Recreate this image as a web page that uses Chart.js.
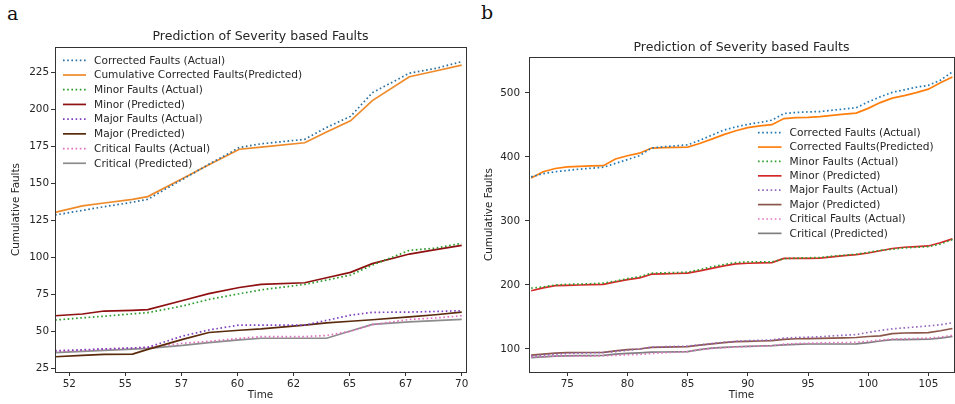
<!DOCTYPE html>
<html>
<head>
<meta charset="utf-8">
<script src="https://cdn.jsdelivr.net/npm/chart.js@4.4.1/dist/chart.umd.min.js"></script>
<style>
  body { margin: 0; background: #fff; width: 955px; height: 404px; overflow: hidden; position: relative; }
  .panel { position: absolute; top: 0; }
  .tag { position: absolute; font-family: "DejaVu Serif", serif; font-size: 19px; color: #111; }
</style>
</head>
<body>
<div class="tag" style="left:7px;top:2px">a</div>
<div class="tag" style="left:481px;top:1px">b</div>
<canvas id="chartA" class="panel" style="left:0" width="480" height="404"></canvas>
<canvas id="chartB" class="panel" style="left:480px" width="475" height="404"></canvas>
<script>
// ── Panel a: values ───────────────────────────────────────────
const timesA = [51.35, 52.6, 53.6, 54.9, 55.6, 57.2, 58.4, 59.8, 60.8, 62.8, 63.8, 64.9, 65.9, 67.6, 68.8, 70.0];
const correctedActualA = [128.4, 131.5, 134, 137, 139, 152.5, 162.6, 174, 176.5, 179.5, 187.5, 195, 211, 224.2, 227.4, 232];
const correctedPredA   = [130.2, 134.5, 136.5, 139, 140.8, 153.1, 162.4, 172.8, 174.3, 177.2, 184.4, 192, 205.7, 221.8, 225.7, 229.7];
const minorActualA     = [57.4, 58.9, 60.0, 61.6, 62.4, 66.9, 71.3, 75.2, 77.8, 81.5, 84.4, 87.8, 94.5, 104.5, 106, 109.3];
const minorPredA       = [60.3, 61.5, 63.5, 64, 64.4, 70.6, 75.3, 79.4, 81.5, 82.6, 86, 89.6, 95.5, 102, 105, 107.8];
const majorActualA     = [36.7, 37.3, 37.9, 38.5, 39, 46.6, 50.7, 54, 54, 54, 57.2, 60.7, 62.6, 62.8, 63.2, 63.7];
const majorPredA       = [32.6, 33.5, 34.2, 34.4, 37.6, 44.3, 49, 50.5, 51.4, 54, 55.5, 56.6, 57.6, 59.5, 61, 62.8];
const criticalActualA  = [36.2, 37, 37.8, 38.5, 39, 41.7, 43, 45, 46.2, 46.2, 47, 49.8, 54.3, 57.8, 58.8, 60.3];
const criticalPredA    = [35.4, 36.3, 36.9, 37.8, 38.3, 40.3, 42.2, 44, 45.1, 45.1, 45.1, 50, 54.5, 56.2, 57, 57.9];
const xTicksA = [52, 54.571, 57.143, 59.714, 62.286, 64.857, 67.429, 70];
const yTicksA = [25, 50, 75, 100, 125, 150, 175, 200, 225];

// ── Panel b ───────────────────────────────────────────────────
const timesB = [72, 73, 74, 75, 76, 77, 78, 79, 80, 81, 82, 83, 84, 85, 86, 87, 88, 89,
                90, 91, 92, 93, 94, 95, 96, 97, 98, 99, 100, 101, 102, 103, 104, 105, 106, 107];
const correctedActualB = [369, 374, 377, 379, 381, 382.5, 384, 390, 396, 402, 414, 416, 417.5, 419, 426, 434, 442, 447,
                          451, 454, 457.5, 468, 469.5, 470.5, 471, 473, 475, 477, 486, 494, 501, 505, 509, 512, 520, 533];
const correctedPredB   = [367, 377, 382, 384.5, 385.5, 386, 386.5, 397, 402, 406, 414, 414.5, 415, 415.5, 421, 428, 435, 441,
                          446, 448.5, 450.5, 460, 461.5, 462, 463, 465, 467, 468.5, 476, 485, 492, 496, 500.5, 506, 516, 525];
const minorActualB     = [195, 197, 200, 201, 201.5, 202, 203, 206, 210, 213, 218.5, 219, 219.5, 220, 224, 228.5, 232, 235,
                          236, 236, 236, 241, 242, 242.5, 243, 245, 246.5, 248, 251, 254, 256, 258, 259, 260, 264, 271];
const minorPredB       = [191, 195.5, 199, 199.5, 200, 200.5, 201, 205, 208.5, 211, 217, 217.5, 218, 218.5, 222, 226, 230, 233,
                          234, 234.5, 235, 241.5, 241.5, 241.5, 242, 244, 246, 247.5, 250, 253.5, 257, 259, 260, 261, 266, 272];
const majorActualB     = [88.5, 90.5, 92, 93, 93.5, 94, 94.5, 96, 98, 100, 103, 103.5, 104, 104.5, 106.5, 108.5, 110.5, 112,
                          113, 113.5, 114, 117, 118, 118.5, 119, 120.5, 121.5, 122.5, 126, 129, 131.5, 133, 134.5, 136, 138, 141];
const majorPredB       = [90.5, 92, 93.5, 94.3, 94.5, 94.5, 94.8, 97, 99, 100, 102.6, 103, 103.3, 103.6, 106, 108, 110, 111.5,
                          112, 112.5, 113, 115, 116, 116.3, 116.6, 117, 117.5, 118, 119.5, 120.5, 124, 125, 125.3, 125.5, 128.5, 132];
const criticalActualB  = [87, 88, 89, 89, 89, 89, 89.5, 90, 91, 91.5, 93, 94, 95, 96, 99, 101, 102, 103,
                          104, 104.5, 105, 107.5, 108.5, 109, 109.5, 110, 110, 110.5, 112, 114, 115.5, 116, 116.5, 117, 118.5, 121.5];
const criticalPredB    = [86.4, 87.7, 89, 89.3, 89.5, 89.7, 90, 92, 93.3, 94, 95, 95.3, 95.6, 96, 99, 101.5, 102.5, 103.5,
                          104.2, 104.7, 105.2, 106.5, 107.3, 107.8, 107.8, 107.8, 107.8, 108, 110, 112.5, 114.5, 114.8, 115, 115.2, 117, 119.5];
const xTicksB = [75, 80, 85, 90, 95, 100, 105];
const yTicksB = [100, 200, 300, 400, 500];

const TITLE = "Prediction of Severity based Faults";
const FONT = '"DejaVu Sans", sans-serif';
const INK = "#262626";
const DOT = [1.6, 2.6];

function pts(times, vals) {
  return times.map((t, i) => ({ x: t, y: vals[i] }));
}

function line(label, times, vals, color, dotted) {
  return {
    label, data: pts(times, vals), borderColor: color, backgroundColor: color,
    borderWidth: 1.7, borderDash: dotted ? DOT : [], pointRadius: 0, tension: 0, fill: false
  };
}

/* ── Frame, title and legend drawn like matplotlib ───────────*/
const decorPlugin = {
  id: "decor",
  afterDraw(chart, args, o) {
    const { ctx, chartArea: a } = chart;
    ctx.save();
    ctx.strokeStyle = "#333";
    ctx.lineWidth = 1;
    ctx.setLineDash([]);
    ctx.strokeRect(Math.round(a.left) + 0.5, Math.round(a.top) + 0.5,
                   Math.round(a.right - a.left), Math.round(a.bottom - a.top));

    ctx.fillStyle = INK;
    ctx.font = "12.5px " + FONT;
    ctx.textAlign = "center";
    ctx.textBaseline = "middle";
    ctx.fillText(o.title, (a.left + a.right) / 2, o.titleY);

    ctx.font = "10.6px " + FONT;
    ctx.textAlign = "left";
    chart.data.datasets.forEach((ds, i) => {
      const y = o.legendY + i * o.legendStep;
      ctx.beginPath();
      ctx.strokeStyle = ds.borderColor;
      ctx.lineWidth = ds.borderWidth;
      ctx.setLineDash(ds.borderDash || []);
      ctx.moveTo(o.legendX, y);
      ctx.lineTo(o.legendX + o.swatch, y);
      ctx.stroke();
      ctx.setLineDash([]);
      ctx.fillStyle = INK;
      ctx.fillText(ds.label, o.legendX + o.swatch + 8, y + 0.5);
    });
    ctx.restore();
  }
};

function axes(cfg) {
  const tickFont = { family: FONT, size: 10.4 };
  const grid = { display: true, drawOnChartArea: false, drawTicks: true, tickLength: 4, color: "#333" };
  return {
    x: {
      type: "linear", min: cfg.xMin, max: cfg.xMax, grid, border: { display: false },
      afterBuildTicks: s => { s.ticks = cfg.xTicks.map(v => ({ value: v })); },
      afterFit: s => { s.height = 32; },
      ticks: { color: INK, font: tickFont, padding: 2, maxRotation: 0, autoSkip: false, callback: v => Math.round(v) },
      title: { display: true, text: "Time", color: INK, font: tickFont, padding: { top: 0, bottom: 2 } }
    },
    y: {
      type: "linear", min: cfg.yMin, max: cfg.yMax, grid, border: { display: false },
      afterBuildTicks: s => { s.ticks = cfg.yTicks.map(v => ({ value: v })); },
      afterFit: s => { s.width = cfg.yWidth; },
      ticks: { color: INK, font: tickFont, padding: cfg.yPad, autoSkip: false },
      title: { display: true, text: "Cumulative Faults", color: INK, font: tickFont, padding: { top: cfg.yTitlePad, bottom: 0 } }
    }
  };
}

/* ── Chart a ────────────────────────────────────────────────*/
new Chart(document.getElementById("chartA"), {
  type: "line",
  data: {
    datasets: [
      line("Corrected Faults (Actual)", timesA, correctedActualA, "#2a6f9e", true),
      line("Cumulative Corrected Faults(Predicted)", timesA, correctedPredA, "#ee8a2a", false),
      line("Minor Faults (Actual)", timesA, minorActualA, "#2a9a2a", true),
      line("Minor (Predicted)", timesA, minorPredA, "#8e1010", false),
      line("Major Faults (Actual)", timesA, majorActualA, "#8040c0", true),
      line("Major (Predicted)", timesA, majorPredA, "#5a2a0c", false),
      line("Critical Faults (Actual)", timesA, criticalActualA, "#e070c0", true),
      line("Critical (Predicted)", timesA, criticalPredA, "#8c8c8c", false)
    ]
  },
  options: {
    responsive: false, animation: false,
    layout: { padding: { left: 0, right: 14, top: 47, bottom: 0 } },
    scales: axes({ xMin: 51.344, xMax: 70.197, xTicks: xTicksA, yMin: 22.3, yMax: 241.9, yTicks: yTicksA,
                   yWidth: 55, yPad: 2, yTitlePad: 10 }),
    plugins: {
      legend: { display: false }, tooltip: { enabled: false },
      decor: { title: TITLE, titleY: 37, legendX: 63, legendY: 60.3, legendStep: 14.71, swatch: 23 }
    }
  },
  plugins: [decorPlugin]
});

/* ── Chart b ────────────────────────────────────────────────*/
new Chart(document.getElementById("chartB"), {
  type: "line",
  data: {
    datasets: [
      line("Corrected Faults (Actual)", timesB, correctedActualB, "#1f77b4", true),
      line("Corrected Faults(Predicted)", timesB, correctedPredB, "#ff7f0e", false),
      line("Minor Faults (Actual)", timesB, minorActualB, "#2ca02c", true),
      line("Minor (Predicted)", timesB, minorPredB, "#d62728", false),
      line("Major Faults (Actual)", timesB, majorActualB, "#9467bd", true),
      line("Major (Predicted)", timesB, majorPredB, "#8c564b", false),
      line("Critical Faults (Actual)", timesB, criticalActualB, "#e377c2", true),
      line("Critical (Predicted)", timesB, criticalPredB, "#7f7f7f", false)
    ]
  },
  options: {
    responsive: false, animation: false,
    layout: { padding: { left: 0, right: 1, top: 57, bottom: 0 } },
    scales: axes({ xMin: 71.82, xMax: 107.13, xTicks: xTicksB, yMin: 64.06, yMax: 556.25, yTicks: yTicksB,
                   yWidth: 49, yPad: 5, yTitlePad: 3 }),
    plugins: {
      legend: { display: false }, tooltip: { enabled: false },
      decor: { title: TITLE, titleY: 47.7, legendX: 278, legendY: 132.7, legendStep: 14.38, swatch: 23.5 }
    }
  },
  plugins: [decorPlugin]
});
</script>
</body>
</html>
